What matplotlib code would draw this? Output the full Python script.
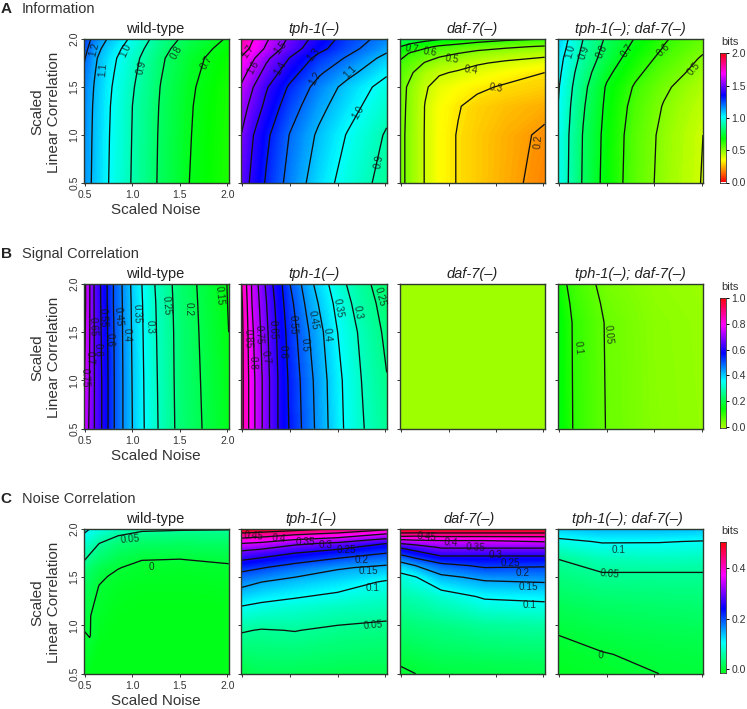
import numpy as np
import matplotlib

matplotlib.use("Agg")
import matplotlib.pyplot as plt
from matplotlib.colors import ListedColormap, hsv_to_rgb

plt.rcParams["font.family"] = ["Liberation Sans", "DejaVu Sans"]

W, H = 747, 709

titles = ["wild-type", "tph-1(–)", "daf-7(–)", "tph-1(–); daf-7(–)"]

# ── A: Information ──
info_x = [0.5, 0.6, 0.75, 1.0, 1.3, 1.6, 2.0]
info_y = [0.5, 1.0, 1.3, 1.5, 1.65, 1.8, 1.9, 2.0]
info_wt = [
    [1.15, 1.08, 1.00, 0.893, 0.785, 0.70, 0.63],
    [1.155, 1.084, 1.004, 0.897, 0.788, 0.704, 0.633],
    [1.16, 1.088, 1.008, 0.90, 0.792, 0.707, 0.636],
    [1.17, 1.095, 1.015, 0.908, 0.797, 0.712, 0.640],
    [1.19, 1.105, 1.025, 0.918, 0.805, 0.72, 0.647],
    [1.215, 1.116, 1.036, 0.930, 0.813, 0.728, 0.655],
    [1.24, 1.138, 1.058, 0.95, 0.83, 0.745, 0.67],
    [1.26, 1.17, 1.09, 0.98, 0.85, 0.77, 0.69],
]
info_tph = [
    [1.46, 1.38, 1.29, 1.165, 1.05, 0.96, 0.865],
    [1.50, 1.41, 1.32, 1.195, 1.085, 0.995, 0.89],
    [1.55, 1.47, 1.375, 1.245, 1.13, 1.04, 0.93],
    [1.59, 1.51, 1.41, 1.285, 1.165, 1.07, 0.96],
    [1.64, 1.565, 1.465, 1.34, 1.215, 1.13, 1.015],
    [1.69, 1.62, 1.52, 1.395, 1.27, 1.19, 1.07],
    [1.76, 1.68, 1.585, 1.45, 1.33, 1.235, 1.125],
    [1.80, 1.71, 1.615, 1.48, 1.36, 1.26, 1.16],
]
info_daf_x = [0.5, 0.6, 0.75, 0.9, 1.1, 1.3, 1.6, 2.0]
info_daf_y = [0.5, 1.0, 1.3, 1.5, 1.65, 1.75, 1.85, 1.92, 2.0]
info_daf = [
    [0.52, 0.475, 0.395, 0.335, 0.295, 0.265, 0.225, 0.17],
    [0.52, 0.475, 0.395, 0.335, 0.295, 0.265, 0.23, 0.185],
    [0.525, 0.477, 0.397, 0.34, 0.305, 0.275, 0.25, 0.225],
    [0.53, 0.48, 0.41, 0.365, 0.335, 0.315, 0.29, 0.27],
    [0.56, 0.51, 0.445, 0.41, 0.39, 0.365, 0.335, 0.30],
    [0.585, 0.545, 0.495, 0.46, 0.435, 0.41, 0.385, 0.355],
    [0.635, 0.59, 0.55, 0.525, 0.50, 0.475, 0.45, 0.43],
    [0.70, 0.66, 0.62, 0.585, 0.56, 0.535, 0.515, 0.49],
    [0.78, 0.76, 0.735, 0.71, 0.68, 0.65, 0.62, 0.60],
]
info_dbl = [
    [0.985, 0.895, 0.79, 0.665, 0.55, 0.475, 0.395],
    [0.99, 0.90, 0.795, 0.67, 0.555, 0.48, 0.40],
    [1.00, 0.912, 0.81, 0.68, 0.57, 0.495, 0.42],
    [1.01, 0.925, 0.825, 0.69, 0.59, 0.515, 0.44],
    [1.025, 0.94, 0.845, 0.72, 0.62, 0.545, 0.465],
    [1.04, 0.96, 0.87, 0.755, 0.65, 0.575, 0.49],
    [1.055, 0.98, 0.885, 0.77, 0.675, 0.595, 0.515],
    [1.07, 0.995, 0.90, 0.785, 0.695, 0.61, 0.535],
]

# ── B: Signal Correlation ──
sig_y = [0.5, 1.0, 1.5, 1.8, 2.0]
sig_wt_x = [0.5, 0.6, 0.7, 0.8, 0.9, 1.0, 1.2, 1.5, 2.0]
sig_wt = [
    [0.745, 0.65, 0.585, 0.505, 0.45, 0.40, 0.32, 0.235, 0.158],
    [0.76, 0.65, 0.585, 0.505, 0.45, 0.398, 0.318, 0.233, 0.155],
    [0.77, 0.648, 0.58, 0.503, 0.448, 0.395, 0.315, 0.232, 0.15],
    [0.775, 0.646, 0.577, 0.50, 0.447, 0.393, 0.313, 0.23, 0.148],
    [0.775, 0.645, 0.575, 0.50, 0.445, 0.39, 0.31, 0.228, 0.147],
]
sig_tph_x = [0.5, 0.6, 0.7, 0.8, 0.9, 1.0, 1.2, 1.5, 1.75, 2.0]
sig_tph = [
    [0.87, 0.77, 0.705, 0.64, 0.585, 0.545, 0.47, 0.365, 0.305, 0.26],
    [0.87, 0.77, 0.705, 0.64, 0.585, 0.54, 0.465, 0.362, 0.30, 0.252],
    [0.87, 0.76, 0.695, 0.63, 0.578, 0.528, 0.45, 0.35, 0.29, 0.24],
    [0.865, 0.75, 0.685, 0.62, 0.568, 0.515, 0.43, 0.335, 0.275, 0.232],
    [0.855, 0.745, 0.675, 0.61, 0.56, 0.50, 0.415, 0.32, 0.265, 0.225],
]
sig_daf_x = [0.5, 2.0]
sig_daf_y = [0.5, 2.0]
sig_daf = [
    [0.0, 0.0],
    [0.0, 0.0],
]
sig_dbl_x = [0.5, 0.65, 1.0, 1.5, 2.0]
sig_dbl_y = [0.5, 1.6, 1.8, 2.0]
sig_dbl = [
    [0.15, 0.097, 0.048, 0.02, 0.01],
    [0.145, 0.095, 0.046, 0.018, 0.008],
    [0.137, 0.088, 0.041, 0.015, 0.006],
    [0.125, 0.08, 0.035, 0.012, 0.005],
]

# ── C: Noise Correlation ──
noise_wt_x = [0.5, 0.55, 0.65, 0.75, 0.85, 1.1, 1.5, 2.0]
noise_wt_y = [0.5, 0.9, 1.1, 1.4, 1.5, 1.6, 1.7, 1.85, 1.95, 2.0]
noise_wt = [
    [-0.012, -0.015, -0.02, -0.02, -0.02, -0.02, -0.02, -0.02],
    [-0.002, 0.001, -0.012, -0.015, -0.018, -0.02, -0.02, -0.02],
    [0.006, 0.001, -0.008, -0.012, -0.015, -0.018, -0.018, -0.018],
    [0.018, 0.012, -0.001, -0.006, -0.01, -0.012, -0.012, -0.011],
    [0.026, 0.018, 0.004, -0.001, -0.005, -0.009, -0.01, -0.008],
    [0.04, 0.026, 0.012, 0.005, 0.001, -0.006, -0.007, -0.004],
    [0.056, 0.044, 0.028, 0.02, 0.012, 0.002, 0.001, 0.006],
    [0.08, 0.068, 0.05, 0.04, 0.03, 0.022, 0.02, 0.022],
    [0.10, 0.09, 0.075, 0.065, 0.055, 0.044, 0.04, 0.04],
    [0.115, 0.10, 0.09, 0.08, 0.07, 0.056, 0.054, 0.052],
]
noise_tph_x = [0.5, 0.7, 1.05, 1.5, 2.0]
noise_tph_y = [0.5, 0.95, 1.2, 1.45, 1.6, 1.75, 1.85, 1.95, 2.0]
noise_tph = [
    [0.005, 0.015, 0.015, 0.012, 0.01],
    [0.053, 0.048, 0.051, 0.044, 0.04],
    [0.10, 0.091, 0.083, 0.073, 0.066],
    [0.165, 0.15, 0.135, 0.12, 0.095],
    [0.215, 0.203, 0.18, 0.155, 0.14],
    [0.285, 0.272, 0.25, 0.225, 0.20],
    [0.35, 0.34, 0.31, 0.29, 0.25],
    [0.44, 0.43, 0.41, 0.39, 0.35],
    [0.50, 0.49, 0.47, 0.445, 0.41],
]
noise_daf_x = [0.5, 0.65, 0.92, 1.38, 2.0]
noise_daf_y = [0.5, 0.6, 1.0, 1.3, 1.5, 1.62, 1.72, 1.81, 1.88, 1.93, 1.97, 2.0]
noise_daf = [
    [-0.004, 0.0, 0.004, 0.007, 0.01],
    [0.001, 0.004, 0.01, 0.012, 0.015],
    [0.03, 0.035, 0.04, 0.05, 0.055],
    [0.06, 0.065, 0.08, 0.105, 0.11],
    [0.085, 0.098, 0.14, 0.16, 0.165],
    [0.125, 0.15, 0.185, 0.208, 0.204],
    [0.19, 0.215, 0.25, 0.25, 0.25],
    [0.255, 0.275, 0.305, 0.305, 0.305],
    [0.335, 0.345, 0.35, 0.35, 0.36],
    [0.41, 0.405, 0.41, 0.41, 0.41],
    [0.465, 0.465, 0.465, 0.465, 0.465],
    [0.50, 0.50, 0.50, 0.50, 0.50],
]
noise_dbl_x = [0.5, 0.95, 1.55, 2.0]
noise_dbl_y = [0.5, 0.7, 0.9, 1.2, 1.55, 1.7, 1.87, 2.0]
noise_dbl = [
    [-0.012, -0.006, 0.0, 0.002],
    [-0.006, -0.001, 0.004, 0.006],
    [0.0, 0.006, 0.011, 0.013],
    [0.015, 0.022, 0.026, 0.028],
    [0.04, 0.05, 0.05, 0.05],
    [0.051, 0.068, 0.072, 0.07],
    [0.09, 0.103, 0.102, 0.098],
    [0.13, 0.14, 0.14, 0.135],
]

# 컨투어 라벨: (text, px, py, rotation) -- 픽셀 위치
labels = [
    # A wild-type
    ("1.2", 94, 49, 75), ("1.1", 103, 70, 85), ("1.0", 126, 50, 65),
    ("0.9", 142, 67, 75), ("0.8", 176, 52, 60), ("0.7", 206, 62, 60),
    # A tph-1
    ("1.7", 248, 52, 55), ("1.6", 253, 67, 60), ("1.5", 280, 48, 50),
    ("1.4", 280, 68, 60), ("1.3", 313, 55, 50), ("1.2", 315, 78, 60),
    ("1.1", 350, 72, 45), ("1.0", 358, 112, 60), ("0.9", 379, 162, 80),
    # A daf-7
    ("0.7", 412, 49, -8), ("0.6", 430, 52, -8), ("0.5", 452, 59, -8),
    ("0.4", 471, 70, -8), ("0.3", 496, 88, -8), ("0.2", 538, 142, 85),
    # A double
    ("1.0", 570, 51, 75), ("0.9", 584, 52, 70), ("0.8", 602, 51, 65),
    ("0.7", 627, 51, 55), ("0.6", 663, 50, 45), ("0.5", 694, 69, 50),
    # B wild-type
    ("0.15", 219, 296, -85), ("0.2", 189, 309, -90), ("0.25", 166, 306, -85),
    ("0.3", 150, 327, -88), ("0.35", 137, 314, -88), ("0.4", 127, 335, -88),
    ("0.45", 118, 317, -85), ("0.6", 110, 340, -88), ("0.55", 103, 318, -88),
    ("0.65", 93, 327, -88), ("0.6", 98, 350, -88), ("0.7", 90, 358, -88),
    ("0.75", 85, 378, -88),
    # B tph-1
    ("0.85", 248, 339, -88), ("0.75", 259, 335, -88), ("0.8", 253, 363, -88),
    ("0.7", 266, 357, -80), ("0.65", 273, 330, -88), ("0.6", 283, 352, -88),
    ("0.55", 293, 325, -88), ("0.5", 305, 345, -88), ("0.45", 313, 320, -80),
    ("0.4", 327, 335, -85), ("0.35", 338, 308, -80), ("0.3", 358, 312, -80),
    ("0.25", 380, 297, -75),
    # B double
    ("0.1", 578, 348, -85), ("0.05", 608, 335, -85),
    # C wild-type
    ("0.05", 130, 539, 5), ("0", 151, 567, 0),
    # C tph-1
    ("0.45", 254, 536, -5), ("0.4", 279, 539, -5), ("0.35", 305, 542, 0),
    ("0.3", 326, 545, 0), ("0.25", 346, 550, 0), ("0.2", 362, 560, 0),
    ("0.15", 368, 571, 0), ("0.1", 373, 588, 0), ("0.05", 373, 625, 5),
    # C daf-7
    ("0.45", 427, 537, -5), ("0.4", 451, 543, -5), ("0.35", 476, 548, -3),
    ("0.3", 496, 555, 0), ("0.25", 510, 563, 0), ("0.2", 523, 573, 0),
    ("0.15", 528, 587, 0), ("0.1", 530, 605, 0),
    # C double
    ("0.1", 619, 550, 0), ("0.05", 610, 574, -5), ("0", 601, 655, -5),
]


def px_x(px):
    return px / W


def px_y(py):
    return 1 - py / H


def hue_cmap(h0):
    hues = np.linspace(h0, 1.0, 512)
    hsv = np.column_stack([hues, np.ones(512), np.ones(512)])
    return ListedColormap(hsv_to_rgb(hsv))


def make_axes(fig, x0, x1, y0, y1):
    return fig.add_axes([px_x(x0), px_y(y1), (x1 - x0) / W, (y1 - y0) / H])


def draw_panel(ax, x, y, z, cmap, vmin, vmax, levels):
    z = np.array(z, dtype=float)
    # 바깥 절점을 프레임까지 늘려서 여백 없이 채움
    gx = np.array(x, dtype=float)
    gx[0], gx[-1] = XLIM
    fill = np.linspace(vmin, vmax, 257)
    ax.contourf(gx, y, z, levels=fill, cmap=cmap, vmin=vmin, vmax=vmax, extend="both")
    if levels is not None:
        ax.contour(gx, y, z, levels=levels, colors="#111111", linewidths=0.95)
    ax.set_xlim(*XLIM)
    ax.set_ylim(0.5, 2.0)
    ax.set_xticks([0.5, 1.0, 1.5, 2.0])
    ax.set_yticks([0.5, 1.0, 1.5, 2.0])
    ax.tick_params(length=2, width=0.7, color="#333333", labelsize=7.5, labelcolor="#333333", pad=0.8)
    ax.set_xticklabels([])
    ax.set_yticklabels([])
    for s in ax.spines.values():
        s.set_linewidth(1.0)
        s.set_color("#2f3a2f")


XLIM = (0.485, 2.015)
panel_x = [(83.5, 228.7), (241, 386.7), (400, 544.7), (558, 703)]
level_a = np.arange(0.1, 2.01, 0.1).round(2)
level_b = np.arange(0.05, 1.0, 0.05).round(2)
level_c = np.arange(0.0, 0.51, 0.05).round(2)
level_c_daf = [0.0, 0.1, 0.15, 0.2, 0.25, 0.3, 0.35, 0.4, 0.45]

rows = [
    dict(letter="A", name="Information", y0=39, y1=183, bar_top=52.7, hue0=0.0,
         vmin=0.0, vmax=2.01, bar_ticks=[0.0, 0.5, 1.0, 1.5, 2.0], head=9,
         title_x=[155, 314, 472, 630],
         panels=[(info_x, info_y, info_wt, level_a), (info_x, info_y, info_tph, level_a),
                 (info_daf_x, info_daf_y, info_daf, level_a), (info_x, info_y, info_dbl, level_a)]),
    dict(letter="B", name="Signal Correlation", y0=284, y1=428.7, bar_top=297.7, hue0=0.22,
         vmin=-0.013, vmax=1.005, bar_ticks=[0.0, 0.2, 0.4, 0.6, 0.8, 1.0], head=254,
         title_x=[155, 314, 472, 630],
         panels=[(sig_wt_x, sig_y, sig_wt, level_b), (sig_tph_x, sig_y, sig_tph, level_b),
                 (sig_daf_x, sig_daf_y, sig_daf, None), (sig_dbl_x, sig_dbl_y, sig_dbl, level_b)]),
    dict(letter="C", name="Noise Correlation", y0=529, y1=673.7, bar_top=542, hue0=0.35,
         vmin=-0.015, vmax=0.504, bar_ticks=[0.0, 0.2, 0.4], head=499,
         title_x=[155, 311, 469, 627],
         panels=[(noise_wt_x, noise_wt_y, noise_wt, level_c), (noise_tph_x, noise_tph_y, noise_tph, level_c),
                 (noise_daf_x, noise_daf_y, noise_daf, level_c_daf), (noise_dbl_x, noise_dbl_y, noise_dbl, level_c)]),
]

fig = plt.figure(figsize=(W / 100, H / 100), dpi=100)
text_col = "#333333"

for row in rows:
    cmap = hue_cmap(row["hue0"])
    y0, y1 = row["y0"], row["y1"]
    fig.text(px_x(0.5), px_y(row["head"]), row["letter"], fontsize=11, fontweight="bold",
             color="#222222", va="center", ha="left")
    fig.text(px_x(22), px_y(row["head"]), row["name"], fontsize=10.5, color=text_col, va="center", ha="left")

    for i, (x, y, z, levels) in enumerate(row["panels"]):
        ax = make_axes(fig, panel_x[i][0], panel_x[i][1], y0, y1)
        draw_panel(ax, x, y, z, cmap, row["vmin"], row["vmax"], levels)
        fig.text(px_x(row["title_x"][i]), px_y(y0 - 10), titles[i], fontsize=10.5, color="#222222",
                 style="normal" if i == 0 else "italic", ha="center", va="center")
        if i == 0:
            ax.set_xticklabels(["0.5", "1.0", "1.5", "2.0"])
            ax.set_yticklabels(["0.5", "1.0", "1.5", "2.0"], rotation=90, va="center")
            ax.tick_params(axis="x", pad=3)

    # 축 라벨
    fig.text(px_x(156), px_y(y1 + 27), "Scaled Noise", fontsize=11, color=text_col, ha="center", va="center")
    mid = (y0 + y1) / 2 + 1
    fig.text(px_x(37), px_y(mid), "Scaled", fontsize=11, color=text_col, rotation=90, ha="center", va="center")
    fig.text(px_x(54), px_y(mid), "Linear Correlation", fontsize=11, color=text_col,
             rotation=90, ha="center", va="center")

    # 컬러바
    bar = make_axes(fig, 720, 726, row["bar_top"], y1 - 0.5)
    grad = np.linspace(row["vmin"], row["vmax"], 512).reshape(-1, 1)
    bar.imshow(grad, origin="lower", aspect="auto", cmap=cmap, vmin=row["vmin"], vmax=row["vmax"],
               extent=[0, 1, row["vmin"], row["vmax"]])
    bar.set_xticks([])
    bar.yaxis.tick_right()
    bar.set_yticks(row["bar_ticks"])
    bar.set_yticklabels([f"{t:.1f}" for t in row["bar_ticks"]])
    bar.tick_params(length=2, width=0.7, labelsize=7.5, labelcolor=text_col, pad=2)
    for s in bar.spines.values():
        s.set_linewidth(0.6)
        s.set_color("#333333")
    fig.text(px_x(730), px_y(row["bar_top"] - 10.5), "bits", fontsize=8, color=text_col, ha="center", va="center")

for s, px, py, rot in labels:
    fig.text(px_x(px), px_y(py), s, fontsize=7.2, color="#111111", alpha=0.8, rotation=rot,
             rotation_mode="anchor", ha="center", va="center", zorder=5)

fig.savefig("out.png", dpi=100)
plt.close(fig)
